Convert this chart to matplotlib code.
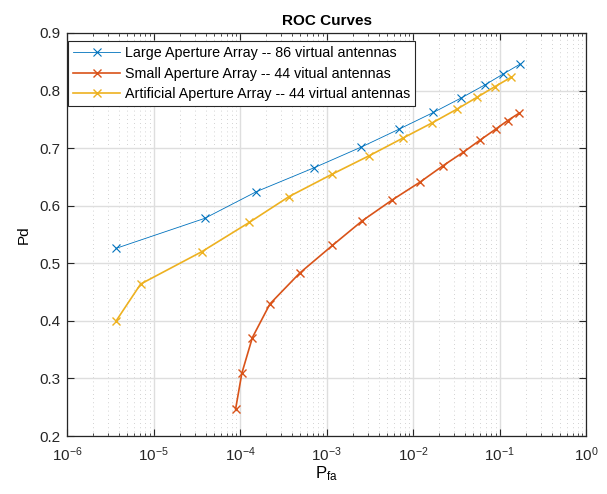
import matplotlib
matplotlib.use("Agg")
import matplotlib.pyplot as plt
from matplotlib.ticker import LogLocator, FixedLocator, NullFormatter, FixedFormatter

plt.rcParams['font.family'] = ['Liberation Sans', 'DejaVu Sans']
plt.rcParams['mathtext.fontset'] = 'custom'
plt.rcParams['mathtext.rm'] = 'Liberation Sans'
plt.rcParams['mathtext.it'] = 'Liberation Sans'
plt.rcParams['mathtext.default'] = 'regular'

large_pfa = [3.7e-6, 3.9e-5, 1.55e-4, 7.2e-4, 2.5e-3, 6.9e-3, 0.0172, 0.0359, 0.068, 0.111, 0.173]
large_pd = [0.526, 0.578, 0.6245, 0.666, 0.7016, 0.733, 0.762, 0.787, 0.810, 0.829, 0.846]

small_pfa = [8.9e-5, 1.05e-4, 1.39e-4, 2.22e-4, 4.9e-4, 1.17e-3, 2.6e-3, 5.75e-3, 0.01205,
             0.022, 0.0382, 0.0596, 0.0904, 0.1245, 0.1694]
small_pd = [0.247, 0.309, 0.371, 0.4295, 0.483, 0.531, 0.574, 0.610, 0.641, 0.669, 0.693,
            0.714, 0.733, 0.748, 0.761]

art_pfa = [3.7e-6, 7.1e-6, 3.6e-5, 1.28e-4, 3.7e-4, 1.17e-3, 3.13e-3, 7.76e-3, 0.0167,
           0.032, 0.0545, 0.0887, 0.136]
art_pd = [0.400, 0.464, 0.520, 0.571, 0.616, 0.655, 0.687, 0.718, 0.744, 0.7675, 0.788, 0.807, 0.823]

labels = ["Large Aperture Array -- 86 virtual antennas",
          "Small Aperture Array -- 44 vitual antennas",
          "Artificial Aperture Array -- 44 virtual antennas"]

x_ticks = [1e-6, 1e-5, 1e-4, 1e-3, 1e-2, 1e-1, 1e0]
x_ticklabels = [r'$10^{-6}$', r'$10^{-5}$', r'$10^{-4}$', r'$10^{-3}$', r'$10^{-2}$',
                r'$10^{-1}$', r'$10^{0}$']
y_ticks = [0.2, 0.3, 0.4, 0.5, 0.6, 0.7, 0.8, 0.9]
y_ticklabels = ['0.2', '0.3', '0.4', '0.5', '0.6', '0.7', '0.8', '0.9']

fig = plt.figure(figsize=(6.07, 4.94), dpi=100)
ax = fig.add_axes([0.1104, 0.1174, 0.855, 0.8158])

ax.plot(large_pfa, large_pd, '-x', color='#0072BD', lw=0.6, ms=6, mew=0.8, label=labels[0])
ax.plot(small_pfa, small_pd, '-x', color='#D95319', lw=1.2, ms=6, mew=1.0, label=labels[1])
ax.plot(art_pfa, art_pd, '-x', color='#EDB120', lw=1.2, ms=6, mew=1.0, label=labels[2])

ax.set_xscale('log')
ax.set_xlim(1e-6, 1)
ax.set_ylim(0.2, 0.9)
ax.xaxis.set_major_locator(FixedLocator(x_ticks))
ax.xaxis.set_major_formatter(FixedFormatter(x_ticklabels))
ax.xaxis.set_minor_locator(LogLocator(base=10, subs=range(2, 10), numticks=20))
ax.xaxis.set_minor_formatter(NullFormatter())
ax.yaxis.set_major_locator(FixedLocator(y_ticks))
ax.yaxis.set_major_formatter(FixedFormatter(y_ticklabels))

ax.grid(True, which='major', color='#dedede', lw=1.0, ls='-')
ax.grid(True, which='minor', axis='x', color='#c4c4c4', lw=0.6, ls=(0, (1, 4)))
ax.set_axisbelow(True)

ax.tick_params(which='both', direction='in', top=True, right=True, labelsize=11, color='#262626',
               labelcolor='#262626')
ax.tick_params(which='minor', labelbottom=False, labelleft=False)
ax.tick_params(axis='x', which='major', pad=7)
ax.tick_params(axis='y', which='major', pad=5)
ax.tick_params(which='major', length=5, width=0.8)
ax.tick_params(which='minor', length=2.5, width=0.6)
for s in ax.spines.values():
    s.set_color('#262626')
    s.set_linewidth(0.9)

ax.set_title('ROC Curves', fontsize=11, fontweight='bold', pad=6)
ax.set_xlabel(r'$P_{fa}$', fontsize=12, labelpad=0)
ax.set_ylabel('Pd', fontsize=11, labelpad=6)

leg = ax.legend(loc='upper left', bbox_to_anchor=(0.002, 0.979), fontsize=10.3, fancybox=False,
                edgecolor='#262626', framealpha=1, handlelength=3.3, borderpad=0.35,
                labelspacing=0.45, handletextpad=0.3, borderaxespad=0.0)
leg.get_frame().set_linewidth(0.8)

fig.savefig('out.png', dpi=100)
